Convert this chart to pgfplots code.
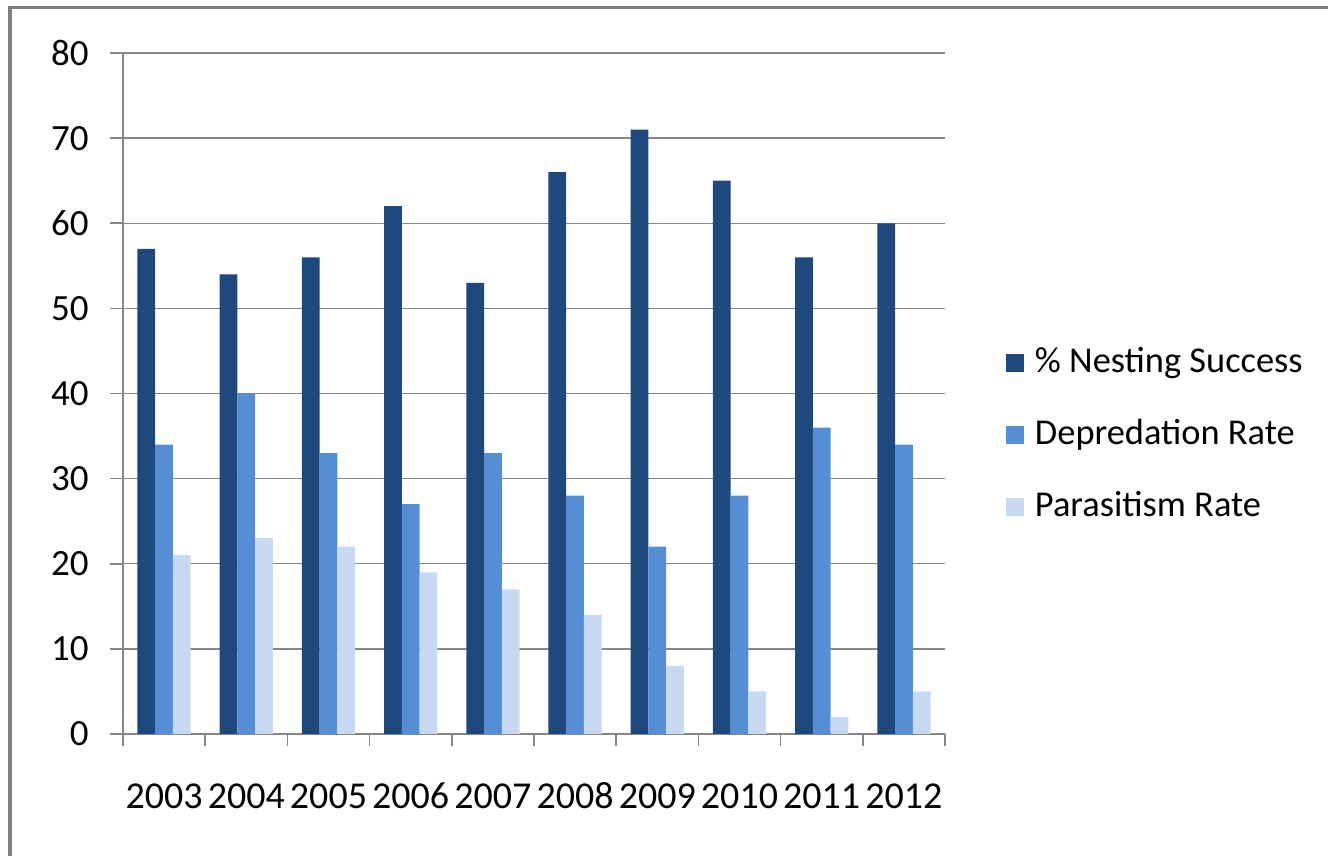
\documentclass[border=0pt]{standalone}
\usepackage{fontspec}
\setmainfont{Carlito}
\usepackage{pgfplots}
\pgfplotsset{compat=1.18}
\definecolor{cA}{RGB}{31,73,125}
\definecolor{cB}{RGB}{85,142,213}
\definecolor{cC}{RGB}{198,217,241}
\definecolor{gridg}{RGB}{134,134,134}
\definecolor{frameg}{RGB}{128,128,128}
\begin{document}
\begin{tikzpicture}
\useasboundingbox (0,0) rectangle (664pt,428pt);
\draw[frameg, line width=1.6pt] (5pt,0) -- (5pt,424.25pt) -- (664pt,424.25pt);
\begin{axis}[
  at={(61.5pt,61pt)}, anchor=south west,
  width=411pt, height=340.5pt, scale only axis,
  ymin=0, ymax=80, ytick={0,10,...,80},
  xmin=-0.5, xmax=9.5,
  xtick={0,...,9},
  xticklabels={2003,2004,2005,2006,2007,2008,2009,2010,2011,2012},
  minor xtick={-0.5,0.5,...,9.5},
  axis x line*=bottom, axis y line*=left,
  axis line style={gridg, line width=0.8pt, -},
  tick align=outside,
  major tick length=6.5pt, minor tick length=6pt,
  major x tick style={draw=none},
  every tick/.style={gridg, line width=0.8pt},
  minor x tick style={gridg, line width=0.8pt},
  ymajorgrids,
  major grid style={gridg, line width=0.7pt},
  /pgf/number format/assume math mode=true,
  yticklabel style={font=\fontsize{18.5}{21}\selectfont, anchor=east, inner sep=0pt, xshift=-10.5pt},
  xticklabel style={font=\fontsize{19}{22}\selectfont, anchor=north, inner sep=0pt, text height=12pt, yshift=-18.5pt},
  ybar=0pt, bar width=0.216,
  legend cell align=left,
  legend image code/.code={\fill[#1] (0pt,-4.5pt) rectangle (9pt,4.5pt);},
  legend style={at={(1.0742,0.439)}, anchor=west, draw=none, fill=none,
    inner sep=0pt, outer sep=0pt,
    font=\fontsize{18.2}{21}\selectfont, row sep=21pt,
    nodes={inner sep=0pt, text height=12pt, text depth=3pt},
    /tikz/every odd column/.append style={column sep=5.5pt}},
]
\addplot[fill=cA, draw=none] coordinates {(0,57) (1,54) (2,56) (3,62) (4,53) (5,66) (6,71) (7,65) (8,56) (9,60)};
\addplot[fill=cB, draw=none] coordinates {(0,34) (1,40) (2,33) (3,27) (4,33) (5,28) (6,22) (7,28) (8,36) (9,34)};
\addplot[fill=cC, draw=none] coordinates {(0,21) (1,23) (2,22) (3,19) (4,17) (5,14) (6,8) (7,5) (8,2) (9,5)};
\legend{\% Nesting Success, Depredation Rate, Parasitism Rate}
\end{axis}
\end{tikzpicture}
\end{document}
